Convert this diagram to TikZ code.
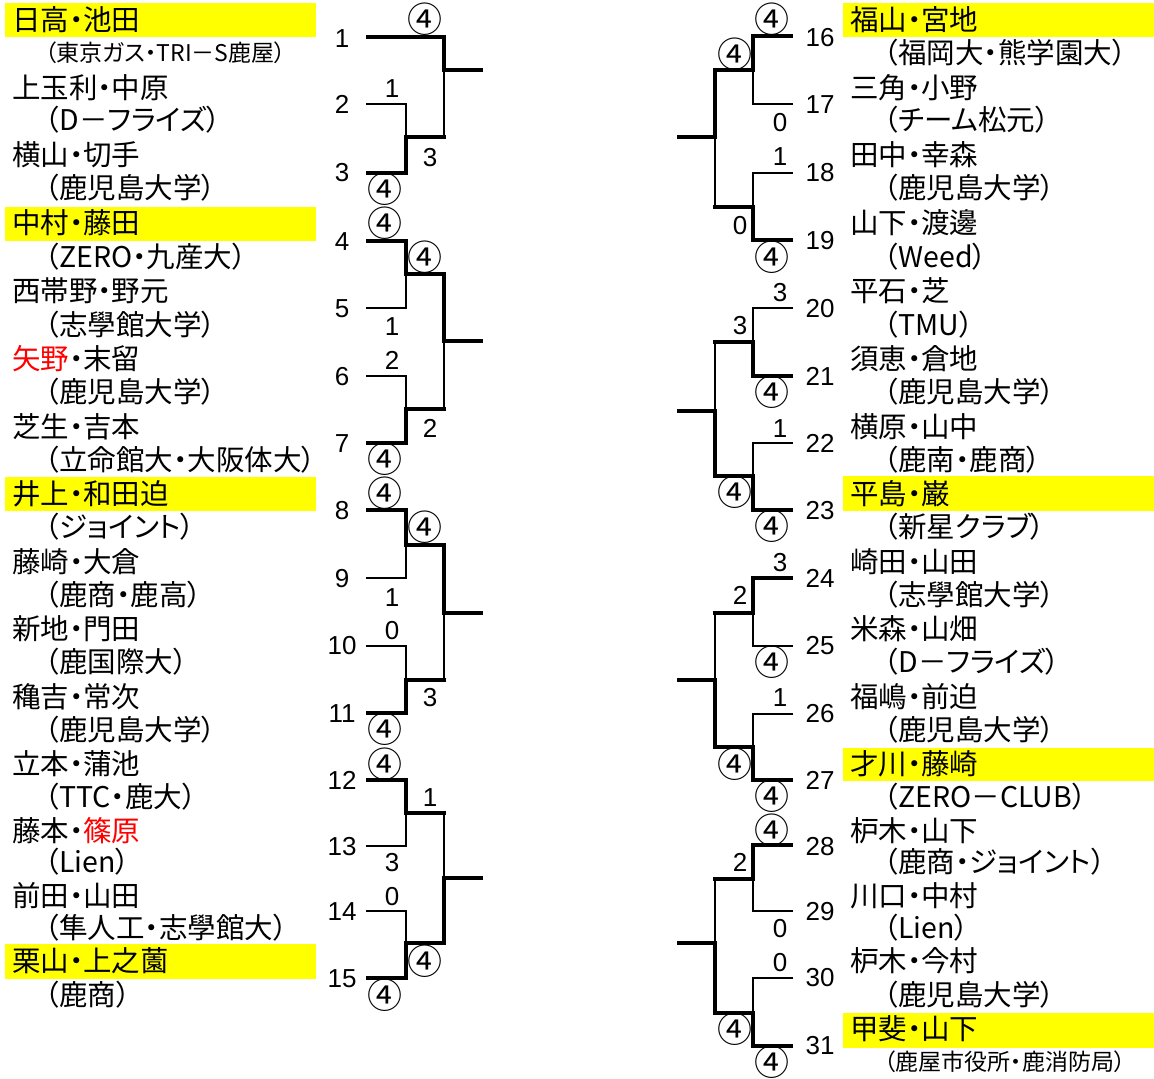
\documentclass[tikz,border=0pt]{standalone}
\usepackage{fontspec}
\setmainfont{Liberation Sans}
\newfontfamily\jp[RawFeature=+palt]{Noto Sans CJK JP}
\newfontfamily\jpc{Noto Sans CJK JP}
\begin{document}
\begin{tikzpicture}[x=1pt,y=-1pt,
  thk/.style={line width=4pt},
  thn/.style={line width=2pt},
  nameT/.style={anchor=west,inner sep=0pt,font=\jp\fontsize{28.5}{30}\selectfont,text height=25pt,text depth=3.5pt},
  subT/.style={nameT},
  subS/.style={anchor=west,inner sep=0pt,font=\jp\fontsize{23}{26}\selectfont,text height=20.2pt,text depth=2.8pt},
  entryN/.style={inner sep=0pt,font=\fontsize{26}{30}\selectfont,text height=18.6pt,text depth=0pt},
  scoreN/.style={entryN},
  circN/.style={inner sep=0pt,font=\jpc\fontsize{35}{36}\selectfont,text height=25.8pt,text depth=0.2pt},
  hlbox/.style={fill={rgb,255:red,255;green,255;blue,0},draw=none}]
\useasboundingbox (0,0) rectangle (1154,1079);
\fill[white] (0,0) rectangle (1154,1079);
\newcommand\Lent[5]{\node[nameT] (Lm#1) at (12,#2) {#3};\node[subT] (Ls#1) at (45,#4) {#5};}
\newcommand\Rent[5]{\node[nameT] (Rm#1) at (850,#2) {#3};\node[subT] (Rs#1) at (884,#4) {#5};}
% highlight boxes
\fill[hlbox] (5,3) rectangle (316,37);
\fill[hlbox] (5,207) rectangle (316,241);
\fill[hlbox] (5,477) rectangle (316,511);
\fill[hlbox] (5,944) rectangle (316,979);
\fill[hlbox] (843,3) rectangle (1154,37);
\fill[hlbox] (843,476) rectangle (1154,511);
\fill[hlbox] (843,748) rectangle (1154,781);
\fill[hlbox] (843,1013) rectangle (1154,1048);
% left names
\node[nameT] (Lm1) at (12,20) {日高・池田};
\node[subS] (Ls1) at (45,53) {（東京ガス・TRI－S鹿屋）};
\Lent{2}{88}{上玉利・中原}{120}{（D－フライズ）}
\Lent{3}{155}{横山・切手}{188}{（鹿児島大学）}
\Lent{4}{223}{中村・藤田}{257}{（ZERO・九産大）}
\Lent{5}{291}{西帯野・野元}{325}{（志學館大学）}
\Lent{6}{359}{{\color{red}矢野}・末留}{392}{（鹿児島大学）}
\Lent{7}{427}{芝生・吉本}{460}{（立命館大・大阪体大）}
\Lent{8}{494}{井上・和田迫}{527}{（ジョイント）}
\Lent{9}{562}{藤崎・大倉}{595}{（鹿商・鹿高）}
\Lent{10}{629}{新地・門田}{662}{（鹿国際大）}
\Lent{11}{697}{穐吉・常次}{730}{（鹿児島大学）}
\Lent{12}{764}{立本・蒲池}{797}{（TTC・鹿大）}
\Lent{13}{831}{藤本・{\color{red}篠原}}{862}{（Lien）}
\Lent{14}{896}{前田・山田}{928}{（隼人工・志學館大）}
\Lent{15}{961}{栗山・上之薗}{995}{（鹿商）}
% right names
\Rent{16}{20}{福山・宮地}{53}{（福岡大・熊学園大）}
\Rent{17}{88}{三角・小野}{120}{（チーム松元）}
\Rent{18}{155}{田中・幸森}{188}{（鹿児島大学）}
\Rent{19}{223}{山下・渡邊}{257}{（Weed）}
\Rent{20}{291}{平石・芝}{325}{（TMU）}
\Rent{21}{359}{須恵・倉地}{392}{（鹿児島大学）}
\Rent{22}{427}{横原・山中}{460}{（鹿南・鹿商）}
\Rent{23}{494}{平島・巌}{527}{（新星クラブ）}
\Rent{24}{562}{崎田・山田}{595}{（志學館大学）}
\Rent{25}{629}{米森・山畑}{662}{（D－フライズ）}
\Rent{26}{697}{福嶋・前迫}{730}{（鹿児島大学）}
\Rent{27}{764}{才川・藤崎}{797}{（ZERO－CLUB）}
\Rent{28}{831}{枦木・山下}{862}{（鹿商・ジョイント）}
\Rent{29}{896}{川口・中村}{928}{（Lien）}
\Rent{30}{961}{枦木・今村}{995}{（鹿児島大学）}
\node[nameT] (Rm31) at (850,1029) {甲斐・山下};
\node[subS] (Rs31) at (884,1062) {（鹿屋市役所・鹿消防局）};
% entry numbers
\foreach \n/\y in {1/38,2/104,3/172,4/241,5/308,6/376,7/443,8/510,9/578,10/645,11/713,12/780,13/846,14/911,15/978}
  \node[entryN] (e\n) at (342,\y) {\n};
\foreach \n/\y in {16/37,17/104,18/172,19/240,20/308,21/376,22/443,23/510,24/578,25/645,26/713,27/780,28/846,29/911,30/977,31/1045}
  \node[entryN] (e\n) at (820,\y) {\n};
% ---- left bracket ----
% group 1
\draw[thk] (366,37) -- (444,37) -- (444,70) -- (483,70);
\draw[thn] (444,70) -- (444,137);
\draw[thn] (366,104) -- (406,104) -- (406,137);
\draw[thk] (366,173) -- (406,173) -- (406,137) -- (446,137);
% group 2
\draw[thk] (366,241) -- (406,241) -- (406,274) -- (444,274) -- (444,341) -- (483,341);
\draw[thn] (366,308) -- (406,308) -- (406,274);
\draw[thn] (366,376) -- (406,376) -- (406,409);
\draw[thk] (366,443) -- (406,443) -- (406,409) -- (446,409);
\draw[thn] (444,409) -- (444,341);
% group 3
\draw[thk] (366,510) -- (406,510) -- (406,545) -- (444,545) -- (444,613) -- (483,613);
\draw[thn] (366,578) -- (406,578) -- (406,545);
\draw[thn] (366,646) -- (406,646) -- (406,680);
\draw[thk] (366,713) -- (406,713) -- (406,680) -- (446,680);
\draw[thn] (444,680) -- (444,613);
% group 4
\draw[thk] (366,780) -- (406,780) -- (406,813) -- (446,813);
\draw[thn] (366,846) -- (406,846) -- (406,813);
\draw[thn] (444,813) -- (444,878);
\draw[thn] (366,911) -- (406,911) -- (406,943);
\draw[thk] (366,978) -- (406,978) -- (406,943) -- (444,943) -- (444,878) -- (483,878);
% ---- right bracket ----
% group R1
\draw[thk] (793,36) -- (753,36) -- (753,70) -- (715,70) -- (715,137) -- (677,137);
\draw[thn] (793,104) -- (753,104) -- (753,70);
\draw[thn] (715,137) -- (715,207);
\draw[thn] (793,173) -- (753,173) -- (753,207);
\draw[thk] (793,240) -- (753,240) -- (753,207) -- (713,207);
% group R2
\draw[thn] (793,308) -- (753,308) -- (753,342);
\draw[thk] (793,376) -- (753,376) -- (753,342) -- (713,342);
\draw[thn] (715,342) -- (715,411);
\draw[thn] (793,443) -- (753,443) -- (753,476);
\draw[thk] (793,510) -- (753,510) -- (753,476) -- (715,476) -- (715,411) -- (677,411);
% group R3
\draw[thk] (793,578) -- (753,578) -- (753,613) -- (713,613);
\draw[thn] (793,646) -- (753,646) -- (753,613);
\draw[thn] (715,613) -- (715,680);
\draw[thn] (793,714) -- (753,714) -- (753,747);
\draw[thk] (793,780) -- (753,780) -- (753,747) -- (715,747) -- (715,680) -- (677,680);
% group R4
\draw[thk] (793,845) -- (753,845) -- (753,879) -- (713,879);
\draw[thn] (793,911) -- (753,911) -- (753,879);
\draw[thn] (715,879) -- (715,943);
\draw[thn] (793,978) -- (753,978) -- (753,1013);
\draw[thk] (793,1046) -- (753,1046) -- (753,1013) -- (715,1013) -- (715,943) -- (677,943);
% ---- scores left ----
\node[circN] (a1) at (425,20) {④};
\node[scoreN] (a2) at (392,88) {1};
\node[scoreN] (a3) at (430,157) {3};
\node[circN] (a4) at (385,190) {④};
\node[circN] (b1) at (385,224) {④};
\node[circN] (b2) at (425,258) {④};
\node[scoreN] (b3) at (392,326) {1};
\node[scoreN] (b4) at (392,360) {2};
\node[scoreN] (b5) at (430,428) {2};
\node[circN] (b6) at (385,460) {④};
\node[circN] (c1) at (385,494) {④};
\node[circN] (c2) at (425,528) {④};
\node[scoreN] (c3) at (392,597) {1};
\node[scoreN] (c4) at (392,630) {0};
\node[scoreN] (c5) at (430,697) {3};
\node[circN] (c6) at (385,730) {④};
\node[circN] (d1) at (385,765) {④};
\node[scoreN] (d2) at (430,797) {1};
\node[scoreN] (d3) at (392,862) {3};
\node[scoreN] (d4) at (392,896) {0};
\node[circN] (d5) at (425,962) {④};
\node[circN] (d6) at (385,996) {④};
% ---- scores right ----
\node[circN] (p1) at (772,20) {④};
\node[circN] (p2) at (735,55) {④};
\node[scoreN] (p3) at (780,122) {0};
\node[scoreN] (p4) at (780,156) {1};
\node[scoreN] (p5) at (740,225) {0};
\node[circN] (p6) at (772,258) {④};
\node[scoreN] (q1) at (780,292) {3};
\node[scoreN] (q2) at (740,325) {3};
\node[circN] (q3) at (772,393) {④};
\node[scoreN] (q4) at (780,428) {1};
\node[circN] (q5) at (735,493) {④};
\node[circN] (q6) at (772,527) {④};
\node[scoreN] (r1) at (780,562) {3};
\node[scoreN] (r2) at (740,595) {2};
\node[circN] (r3) at (772,663) {④};
\node[scoreN] (r4) at (780,697) {1};
\node[circN] (r5) at (735,765) {④};
\node[circN] (r6) at (772,797) {④};
\node[circN] (t1) at (772,831) {④};
\node[scoreN] (t2) at (740,862) {2};
\node[scoreN] (t3) at (780,928) {0};
\node[scoreN] (t4) at (780,962) {0};
\node[circN] (t5) at (735,1030) {④};
\node[circN] (t6) at (772,1063) {④};
\end{tikzpicture}
\end{document}
